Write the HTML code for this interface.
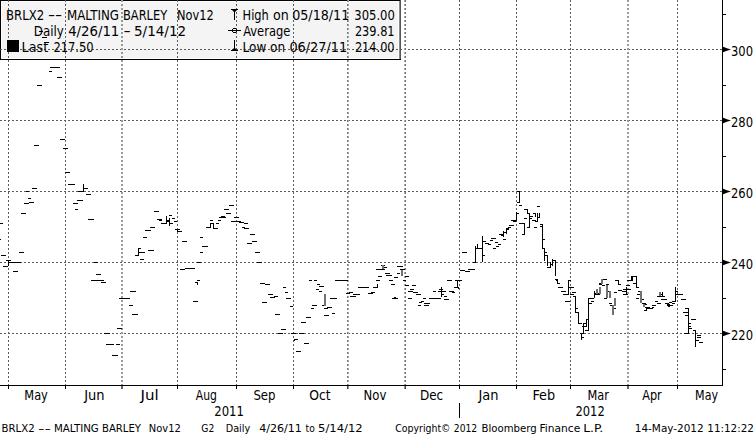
<!DOCTYPE html>
<html><head><meta charset="utf-8"><style>
html,body{margin:0;padding:0;background:#fff;}
svg{display:block;}
.t{font-family:"DejaVu Sans Condensed","DejaVu Sans","Liberation Sans",sans-serif;font-size:13.5px;fill:#000;white-space:pre;}
.f{font-family:"DejaVu Sans Condensed","DejaVu Sans","Liberation Sans",sans-serif;font-size:10.5px;fill:#000;white-space:pre;}
</style></head><body>
<svg width="756" height="436" viewBox="0 0 756 436" shape-rendering="crispEdges" xml:space="preserve">
<rect x="0" y="0" width="756" height="436" fill="#fff"/>
<rect x="0" y="0" width="401" height="60" fill="#000"/>
<rect x="400" y="0" width="1" height="59" fill="#555"/>
<rect x="1" y="1" width="399" height="58" fill="#8a8a8a"/>
<rect x="1" y="1" width="398" height="58" fill="#fff"/>
<rect x="2" y="2" width="396" height="56" fill="#f4f4f4"/>
<g stroke-width="1" stroke-dasharray="2 2"><line x1="0" y1="49.5" x2="722" y2="49.5" stroke="#5a5a5a"/><line x1="0" y1="120.5" x2="722" y2="120.5" stroke="#5a5a5a"/><line x1="0" y1="191.5" x2="722" y2="191.5" stroke="#5a5a5a"/><line x1="0" y1="262.5" x2="722" y2="262.5" stroke="#5a5a5a"/><line x1="0" y1="333.5" x2="722" y2="333.5" stroke="#5a5a5a"/><line x1="8.5" y1="0" x2="8.5" y2="385" stroke="#5a5a5a"/><line x1="65.5" y1="0" x2="65.5" y2="385" stroke="#5a5a5a"/><line x1="121.5" y1="0" x2="121.5" y2="385" stroke="#9a9a9a"/><line x1="122.5" y1="0" x2="122.5" y2="385" stroke="#9a9a9a"/><line x1="177.5" y1="0" x2="177.5" y2="385" stroke="#5a5a5a"/><line x1="236.5" y1="0" x2="236.5" y2="385" stroke="#5a5a5a"/><line x1="293.5" y1="0" x2="293.5" y2="385" stroke="#5a5a5a"/><line x1="347.5" y1="0" x2="347.5" y2="385" stroke="#777"/><line x1="348.5" y1="0" x2="348.5" y2="385" stroke="#a8a8a8"/><line x1="404.5" y1="0" x2="404.5" y2="385" stroke="#a8a8a8"/><line x1="405.5" y1="0" x2="405.5" y2="385" stroke="#777"/><line x1="459.5" y1="0" x2="459.5" y2="385" stroke="#5a5a5a"/><line x1="516.5" y1="0" x2="516.5" y2="385" stroke="#5a5a5a"/><line x1="570.5" y1="0" x2="570.5" y2="385" stroke="#5a5a5a"/><line x1="627.5" y1="0" x2="627.5" y2="385" stroke="#9a9a9a"/><line x1="628.5" y1="0" x2="628.5" y2="385" stroke="#9a9a9a"/><line x1="677.5" y1="0" x2="677.5" y2="385" stroke="#5a5a5a"/></g>
<rect x="0" y="385" width="723" height="1" fill="#000"/>
<rect x="722" y="0" width="1" height="386" fill="#000"/>
<rect x="8" y="386" width="1" height="3" fill="#000"/><rect x="65" y="386" width="1" height="3" fill="#000"/><rect x="121" y="386" width="1" height="3" fill="#666"/><rect x="122" y="386" width="1" height="3" fill="#666"/><rect x="177" y="386" width="1" height="3" fill="#000"/><rect x="236" y="386" width="1" height="3" fill="#000"/><rect x="293" y="386" width="1" height="3" fill="#000"/><rect x="347" y="386" width="1" height="3" fill="#444"/><rect x="348" y="386" width="1" height="3" fill="#999"/><rect x="404" y="386" width="1" height="3" fill="#999"/><rect x="405" y="386" width="1" height="3" fill="#444"/><rect x="459" y="386" width="1" height="3" fill="#000"/><rect x="516" y="386" width="1" height="3" fill="#000"/><rect x="570" y="386" width="1" height="3" fill="#000"/><rect x="627" y="386" width="1" height="3" fill="#666"/><rect x="628" y="386" width="1" height="3" fill="#666"/><rect x="677" y="386" width="1" height="3" fill="#000"/>
<rect x="459" y="403" width="1" height="15" fill="#000"/>
<rect x="723" y="14" width="3" height="1" fill="#000"/>
<rect x="723" y="85" width="3" height="1" fill="#000"/>
<rect x="723" y="156" width="3" height="1" fill="#000"/>
<rect x="723" y="227" width="3" height="1" fill="#000"/>
<rect x="723" y="298" width="3" height="1" fill="#000"/>
<rect x="723" y="369" width="3" height="1" fill="#000"/>
<path d="M722.5,46.5 Q727,48.4 731,49.5 Q727,50.6 722.5,52.5 Z" fill="#000" shape-rendering="auto"/>
<path d="M722.5,117.5 Q727,119.4 731,120.5 Q727,121.6 722.5,123.5 Z" fill="#000" shape-rendering="auto"/>
<path d="M722.5,188.5 Q727,190.4 731,191.5 Q727,192.6 722.5,194.5 Z" fill="#000" shape-rendering="auto"/>
<path d="M722.5,259.5 Q727,261.4 731,262.5 Q727,263.6 722.5,265.5 Z" fill="#000" shape-rendering="auto"/>
<path d="M722.5,330.5 Q727,332.4 731,333.5 Q727,334.6 722.5,336.5 Z" fill="#000" shape-rendering="auto"/>
<text x="6.0" y="20" class="t" textLength="38.22" lengthAdjust="spacingAndGlyphs">BRLX2</text>
<text x="47.9" y="20" class="t" textLength="14.18" lengthAdjust="spacingAndGlyphs">--</text>
<text x="67.0" y="20" class="t" textLength="51.95" lengthAdjust="spacingAndGlyphs">MALTING</text>
<text x="123.0" y="20" class="t" textLength="44.18" lengthAdjust="spacingAndGlyphs">BARLEY</text>
<text x="177.0" y="20" class="t" textLength="36.72" lengthAdjust="spacingAndGlyphs">Nov12</text>
<text x="242.6" y="20" class="t" textLength="26.22" lengthAdjust="spacingAndGlyphs">High</text>
<text x="273.1" y="20" class="t" textLength="15.74" lengthAdjust="spacingAndGlyphs">on</text>
<text x="292.2" y="20" class="t" textLength="57.12" lengthAdjust="spacingAndGlyphs">05/18/11</text>
<text x="354.3" y="20" class="t" textLength="40.53" lengthAdjust="spacingAndGlyphs">305.00</text>
<text x="33.8" y="36" class="t" textLength="30.02" lengthAdjust="spacingAndGlyphs">Daily</text>
<text x="68.2" y="36" class="t" textLength="51.1" lengthAdjust="spacingAndGlyphs">4/26/11</text>
<text x="123.5" y="36" class="t" textLength="7.26" lengthAdjust="spacingAndGlyphs">-</text>
<text x="134.0" y="36" class="t" textLength="52.14" lengthAdjust="spacingAndGlyphs">5/14/12</text>
<text x="243.2" y="36" class="t" textLength="47.16" lengthAdjust="spacingAndGlyphs">Average</text>
<text x="354.9" y="36" class="t" textLength="39.69" lengthAdjust="spacingAndGlyphs">239.81</text>
<text x="21.6" y="52" class="t" textLength="26.57" lengthAdjust="spacingAndGlyphs">Last</text>
<text x="53.4" y="52" class="t" textLength="40.21" lengthAdjust="spacingAndGlyphs">217.50</text>
<text x="242.6" y="52" class="t" textLength="23.7" lengthAdjust="spacingAndGlyphs">Low</text>
<text x="270.1" y="52" class="t" textLength="15.06" lengthAdjust="spacingAndGlyphs">on</text>
<text x="289.4" y="52" class="t" textLength="57.85" lengthAdjust="spacingAndGlyphs">06/27/11</text>
<text x="354.9" y="52" class="t" textLength="39.69" lengthAdjust="spacingAndGlyphs">214.00</text>
<text x="731.0" y="56.0" class="t" textLength="22.04" lengthAdjust="spacingAndGlyphs">300</text>
<text x="731.0" y="127.0" class="t" textLength="22.04" lengthAdjust="spacingAndGlyphs">280</text>
<text x="731.0" y="198.0" class="t" textLength="22.04" lengthAdjust="spacingAndGlyphs">260</text>
<text x="731.0" y="269.0" class="t" textLength="22.04" lengthAdjust="spacingAndGlyphs">240</text>
<text x="731.0" y="340.0" class="t" textLength="22.04" lengthAdjust="spacingAndGlyphs">220</text>
<text x="24.3" y="400" class="t" textLength="23.55" lengthAdjust="spacingAndGlyphs">May</text>
<text x="84.2" y="400" class="t" textLength="20.39" lengthAdjust="spacingAndGlyphs">Jun</text>
<text x="140.5" y="400" class="t" textLength="18.18" lengthAdjust="spacingAndGlyphs">Jul</text>
<text x="195.8" y="400" class="t" textLength="21.15" lengthAdjust="spacingAndGlyphs">Aug</text>
<text x="253.4" y="400" class="t" textLength="22.14" lengthAdjust="spacingAndGlyphs">Sep</text>
<text x="309.2" y="400" class="t" textLength="21.32" lengthAdjust="spacingAndGlyphs">Oct</text>
<text x="363.6" y="400" class="t" textLength="22.75" lengthAdjust="spacingAndGlyphs">Nov</text>
<text x="420.0" y="400" class="t" textLength="23.2" lengthAdjust="spacingAndGlyphs">Dec</text>
<text x="478.4" y="400" class="t" textLength="20.02" lengthAdjust="spacingAndGlyphs">Jan</text>
<text x="532.5" y="400" class="t" textLength="22.64" lengthAdjust="spacingAndGlyphs">Feb</text>
<text x="587.5" y="400" class="t" textLength="21.49" lengthAdjust="spacingAndGlyphs">Mar</text>
<text x="642.2" y="400" class="t" textLength="19.53" lengthAdjust="spacingAndGlyphs">Apr</text>
<text x="695.1" y="400" class="t" textLength="22.93" lengthAdjust="spacingAndGlyphs">May</text>
<text x="214.3" y="416" class="t" textLength="29.64" lengthAdjust="spacingAndGlyphs">2011</text>
<text x="575.4" y="416" class="t" textLength="29.32" lengthAdjust="spacingAndGlyphs">2012</text>
<text x="1.5" y="432" class="f" textLength="33.14" lengthAdjust="spacingAndGlyphs">BRLX2</text>
<text x="38.0" y="432" class="f" textLength="12.91" lengthAdjust="spacingAndGlyphs">--</text>
<text x="53.9" y="432" class="f" textLength="44.9" lengthAdjust="spacingAndGlyphs">MALTING</text>
<text x="102.0" y="432" class="f" textLength="38.92" lengthAdjust="spacingAndGlyphs">BARLEY</text>
<text x="148.8" y="432" class="f" textLength="32.04" lengthAdjust="spacingAndGlyphs">Nov12</text>
<text x="201.3" y="432" class="f" textLength="12.94" lengthAdjust="spacingAndGlyphs">G2</text>
<text x="225.7" y="432" class="f" textLength="24.54" lengthAdjust="spacingAndGlyphs">Daily</text>
<text x="259.2" y="432" class="f" textLength="42.71" lengthAdjust="spacingAndGlyphs">4/26/11</text>
<text x="305.6" y="432" class="f" textLength="9.17" lengthAdjust="spacingAndGlyphs">to</text>
<text x="318.1" y="432" class="f" textLength="44.65" lengthAdjust="spacingAndGlyphs">5/14/12</text>
<text x="395.3" y="432" class="f" textLength="55.21" lengthAdjust="spacingAndGlyphs">Copyright©</text>
<text x="453.8" y="432" class="f" textLength="23.4" lengthAdjust="spacingAndGlyphs">2012</text>
<text x="481.6" y="432" class="f" textLength="55.08" lengthAdjust="spacingAndGlyphs">Bloomberg</text>
<text x="539.6" y="432" class="f" textLength="40.63" lengthAdjust="spacingAndGlyphs">Finance</text>
<text x="583.2" y="432" class="f" textLength="20.02" lengthAdjust="spacingAndGlyphs">L.P.</text>
<text x="634.8" y="432" class="f" textLength="68.85" lengthAdjust="spacingAndGlyphs">14-May-2012</text>
<text x="707.3" y="432" class="f" textLength="46.56" lengthAdjust="spacingAndGlyphs">11:12:22</text>
<rect x="7" y="40" width="12" height="12" fill="#000"/>
<g stroke="#000" stroke-width="1" fill="none"><line x1="234.5" y1="9" x2="234.5" y2="20"/><line x1="231" y1="9.5" x2="238" y2="9.5"/><line x1="228" y1="30.5" x2="241" y2="30.5"/><circle cx="234.5" cy="30.5" r="2"/><line x1="234.5" y1="40" x2="234.5" y2="51"/><line x1="231" y1="50.5" x2="238" y2="50.5"/></g><path d="M232,10 L237,10 L234.5,12.5Z M232,50 L237,50 L234.5,47.5Z" fill="#000" shape-rendering="auto"/>
<path fill="#000" d="M0 223h3v1h-3zM0 239h1v1h-1zM1 255h5v1h-5zM6 260h5v1h-5zM8 260h1v6h-1zM8 262h13v1h-13zM3 266h5v1h-5zM13 271h5v1h-5zM19 252h5v1h-5zM21 213h5v1h-5zM24 203h5v1h-5zM26 191h3v1h-3zM28 198h3v1h-3zM29 202h5v1h-5zM32 188h5v1h-5zM34 145h5v1h-5zM37 85h5v1h-5zM39 31h4v1h-4zM42 37h5v1h-5zM44 42h5v1h-5zM49 71h3v1h-3zM50 67h10v1h-10zM57 77h5v1h-5zM60 139h5v1h-5zM63 148h5v1h-5zM65 172h5v1h-5zM68 184h7v1h-7zM78 191h6v1h-6zM83 184h1v7h-1zM84 188h4v1h-4zM86 194h5v1h-5zM77 200h6v1h-6zM73 203h5v1h-5zM75 209h3v1h-3zM88 219h6v1h-6zM94 262h4v1h-4zM96 274h5v1h-5zM91 280h13v1h-13zM101 282h5v1h-5zM104 333h6v1h-6zM106 344h8v1h-8zM116 344h4v1h-4zM112 355h6v1h-6zM117 328h5v1h-5zM119 298h11v1h-11zM130 291h6v1h-6zM129 305h4v1h-4zM132 314h6v1h-6zM140 259h4v1h-4zM138 248h1v8h-1zM138 248h3v1h-3zM138 252h7v1h-7zM135 255h3v1h-3zM148 250h6v1h-6zM143 237h4v1h-4zM145 230h6v1h-6zM150 227h5v1h-5zM154 211h5v1h-5zM157 219h5v1h-5zM159 220h3v1h-3zM166 216h1v8h-1zM161 223h5v1h-5zM167 220h2v1h-2zM167 221h2v1h-2zM169 218h1v8h-1zM169 223h4v1h-4zM169 215h3v1h-3zM172 218h3v1h-3zM174 221h3v1h-3zM175 229h5v1h-5zM177 231h5v1h-5zM177 229h1v2h-1zM182 241h5v1h-5zM180 269h5v1h-5zM185 268h10v1h-10zM197 262h4v1h-4zM200 252h3v1h-3zM200 237h3v1h-3zM202 246h6v1h-6zM197 280h3v1h-3zM195 282h3v1h-3zM197 282h1v3h-1zM193 301h5v1h-5zM206 227h5v1h-5zM210 223h1v5h-1zM210 223h3v1h-3zM213 223h1v6h-1zM213 228h5v1h-5zM210 220h3v1h-3zM216 223h3v1h-3zM218 220h3v1h-3zM219 217h7v1h-7zM221 216h4v1h-4zM224 209h5v1h-5zM226 213h5v1h-5zM229 205h5v1h-5zM231 221h5v1h-5zM234 217h5v1h-5zM236 221h5v1h-5zM239 222h5v1h-5zM244 223h4v1h-4zM242 227h3v1h-3zM244 228h5v1h-5zM250 234h5v1h-5zM252 241h5v1h-5zM247 243h5v1h-5zM255 252h5v1h-5zM257 262h5v1h-5zM260 283h5v1h-5zM265 284h5v1h-5zM283 287h3v1h-3zM285 292h3v1h-3zM268 294h5v1h-5zM270 297h5v1h-5zM274 296h4v1h-4zM286 298h5v1h-5zM262 302h5v1h-5zM290 306h3v1h-3zM275 314h5v1h-5zM281 329h5v1h-5zM278 333h5v1h-5zM291 333h5v1h-5zM299 333h5v1h-5zM294 339h4v1h-4zM294 339h1v2h-1zM301 322h5v1h-5zM306 317h5v1h-5zM304 343h5v1h-5zM296 351h5v1h-5zM309 280h3v1h-3zM314 280h3v1h-3zM317 284h3v1h-3zM319 286h5v1h-5zM316 289h3v1h-3zM319 291h3v1h-3zM322 305h3v1h-3zM330 298h7v1h-7zM312 305h5v1h-5zM311 308h3v1h-3zM324 308h4v1h-4zM327 307h5v1h-5zM332 313h3v1h-3zM324 315h5v1h-5zM335 280h13v1h-13zM353 294h7v1h-7zM350 296h6v1h-6zM358 287h11v1h-11zM368 293h5v1h-5zM371 292h4v1h-4zM373 287h4v1h-4zM377 284h1v4h-1zM376 280h4v1h-4zM378 276h4v1h-4zM376 269h9v1h-9zM381 265h4v1h-4zM384 267h3v1h-3zM385 273h5v1h-5zM386 275h6v1h-6zM394 277h2v1h-2zM389 280h4v1h-4zM391 284h4v1h-4zM397 266h6v1h-6zM400 269h5v1h-5zM397 273h3v1h-3zM395 277h3v1h-3zM405 276h4v1h-4zM403 280h3v1h-3zM405 285h4v1h-4zM412 285h4v1h-4zM410 289h4v1h-4zM408 291h5v1h-5zM413 292h5v1h-5zM416 294h5v1h-5zM392 298h6v1h-6zM394 297h2v1h-2zM408 298h4v1h-4zM423 298h3v1h-3zM429 298h12v1h-12zM433 291h3v1h-3zM438 291h8v1h-8zM439 289h4v1h-4zM441 287h1v10h-1zM441 294h3v1h-3zM444 296h3v1h-3zM444 299h5v1h-5zM447 280h5v1h-5zM455 280h7v1h-7zM457 280h1v8h-1zM454 287h4v1h-4zM458 287h1v2h-1zM449 291h5v1h-5zM452 292h3v1h-3zM460 270h5v1h-5zM465 271h5v1h-5zM468 269h7v1h-7zM462 252h5v1h-5zM473 262h3v1h-3zM475 246h1v16h-1zM477 244h1v5h-1zM476 248h6v1h-6zM482 236h1v26h-1zM482 241h3v1h-3zM482 255h3v1h-3zM485 243h4v1h-4zM488 244h3v1h-3zM484 241h2v1h-2zM490 240h3v1h-3zM491 238h5v1h-5zM493 248h3v1h-3zM495 242h3v1h-3zM498 244h3v1h-3zM496 246h3v1h-3zM499 234h4v1h-4zM501 235h3v1h-3zM503 231h1v6h-1zM503 232h3v1h-3zM503 239h3v1h-3zM506 228h1v6h-1zM506 229h3v1h-3zM507 228h2v1h-2zM508 227h3v1h-3zM509 225h5v1h-5zM511 220h5v1h-5zM513 221h3v1h-3zM516 212h1v9h-1zM516 213h3v1h-3zM519 191h1v11h-1zM517 191h3v1h-3zM517 202h3v1h-3zM519 205h3v1h-3zM519 223h6v1h-6zM524 223h1v11h-1zM522 234h3v1h-3zM524 209h3v1h-3zM527 209h1v5h-1zM527 213h3v1h-3zM529 213h1v14h-1zM527 227h3v1h-3zM530 216h3v1h-3zM530 218h2v1h-2zM524 218h3v1h-3zM533 213h3v1h-3zM535 213h1v4h-1zM532 220h4v1h-4zM537 213h1v8h-1zM535 221h3v1h-3zM539 213h1v4h-1zM537 217h3v1h-3zM534 227h3v1h-3zM537 206h3v1h-3zM540 224h3v1h-3zM540 226h3v1h-3zM542 224h1v24h-1zM542 239h3v1h-3zM542 248h3v1h-3zM544 248h1v13h-1zM544 252h3v1h-3zM544 255h4v1h-4zM547 255h1v11h-1zM547 267h4v1h-4zM550 262h1v5h-1zM551 264h2v1h-2zM552 259h1v7h-1zM552 260h4v1h-4zM555 260h1v16h-1zM555 279h3v1h-3zM556 280h2v1h-2zM557 280h1v4h-1zM557 283h3v1h-3zM558 287h5v1h-5zM561 291h5v1h-5zM563 294h6v1h-6zM568 281h1v13h-1zM568 280h3v1h-3zM569 287h5v1h-5zM572 292h4v1h-4zM570 294h4v1h-4zM573 296h3v1h-3zM575 296h1v16h-1zM565 301h5v1h-5zM575 308h3v1h-3zM575 312h4v1h-4zM578 312h1v11h-1zM578 323h4v1h-4zM583 323h4v1h-4zM583 323h1v4h-1zM582 326h5v1h-5zM586 319h1v8h-1zM586 319h3v1h-3zM588 298h1v33h-1zM585 330h4v1h-4zM583 326h1v7h-1zM580 333h4v1h-4zM581 333h1v7h-1zM581 337h3v1h-3zM589 298h5v1h-5zM591 301h3v1h-3zM589 303h3v1h-3zM594 291h1v7h-1zM595 293h5v1h-5zM595 294h5v1h-5zM601 279h6v1h-6zM599 283h3v1h-3zM599 284h3v1h-3zM602 285h3v1h-3zM606 284h3v1h-3zM606 291h4v1h-4zM604 298h3v1h-3zM615 280h3v1h-3zM618 280h1v5h-1zM618 284h3v1h-3zM614 292h3v1h-3zM618 290h4v1h-4zM622 291h4v1h-4zM623 289h8v1h-8zM626 287h1v7h-1zM626 285h4v1h-4zM623 294h5v1h-5zM627 280h6v1h-6zM631 276h5v1h-5zM631 276h1v5h-1zM632 276h1v5h-1zM636 276h1v12h-1zM633 283h3v1h-3zM636 287h3v1h-3zM638 291h4v1h-4zM637 294h4v1h-4zM636 298h3v1h-3zM641 299h3v1h-3zM642 303h4v1h-4zM645 307h5v1h-5zM646 307h1v4h-1zM644 310h3v1h-3zM647 308h6v1h-6zM652 305h4v1h-4zM655 301h3v1h-3zM657 303h4v1h-4zM657 296h4v1h-4zM661 296h4v1h-4zM661 299h6v1h-6zM652 307h2v1h-2zM675 287h1v15h-1zM675 291h3v1h-3zM675 294h8v1h-8zM681 299h5v1h-5zM672 301h3v1h-3zM685 308h4v1h-4zM688 308h1v26h-1zM683 312h5v1h-5zM685 315h3v1h-3zM691 319h5v1h-5zM688 323h3v1h-3zM688 326h3v1h-3zM688 328h4v1h-4zM693 330h3v1h-3zM684 333h4v1h-4zM695 330h1v17h-1zM697 335h4v1h-4zM697 337h4v1h-4zM695 340h4v1h-4zM699 342h4v1h-4zM609 303h3v1h-3zM610 305h5v1h-5zM613 308h3v1h-3zM669 302h3v1h-3zM665 303h4v1h-4zM672 303h3v1h-3zM667 305h6v1h-6zM667 304h3v1h-3zM668 306h2v1h-2zM673 301h3v1h-3zM659 294h4v1h-4zM644 304h3v1h-3zM662 292h1v4h-1zM346 293h4v1h-4zM349 292h4v1h-4zM419 302h3v1h-3zM421 301h3v1h-3zM418 305h3v1h-3zM424 305h5v1h-5zM424 303h6v1h-6z"/><path fill="#727272" d="M324 294h2v12h-2zM601 279h2v5h-2zM606 285h2v13h-2zM609 291h2v7h-2zM599 287h2v7h-2zM596 289h2v5h-2zM614 298h2v8h-2zM612 305h2v10h-2zM640 291h2v12h-2zM643 304h2v3h-2zM659 292h2v4h-2zM382 265h2v4h-2zM401 270h2v6h-2z"/>
</svg>
</body></html>
